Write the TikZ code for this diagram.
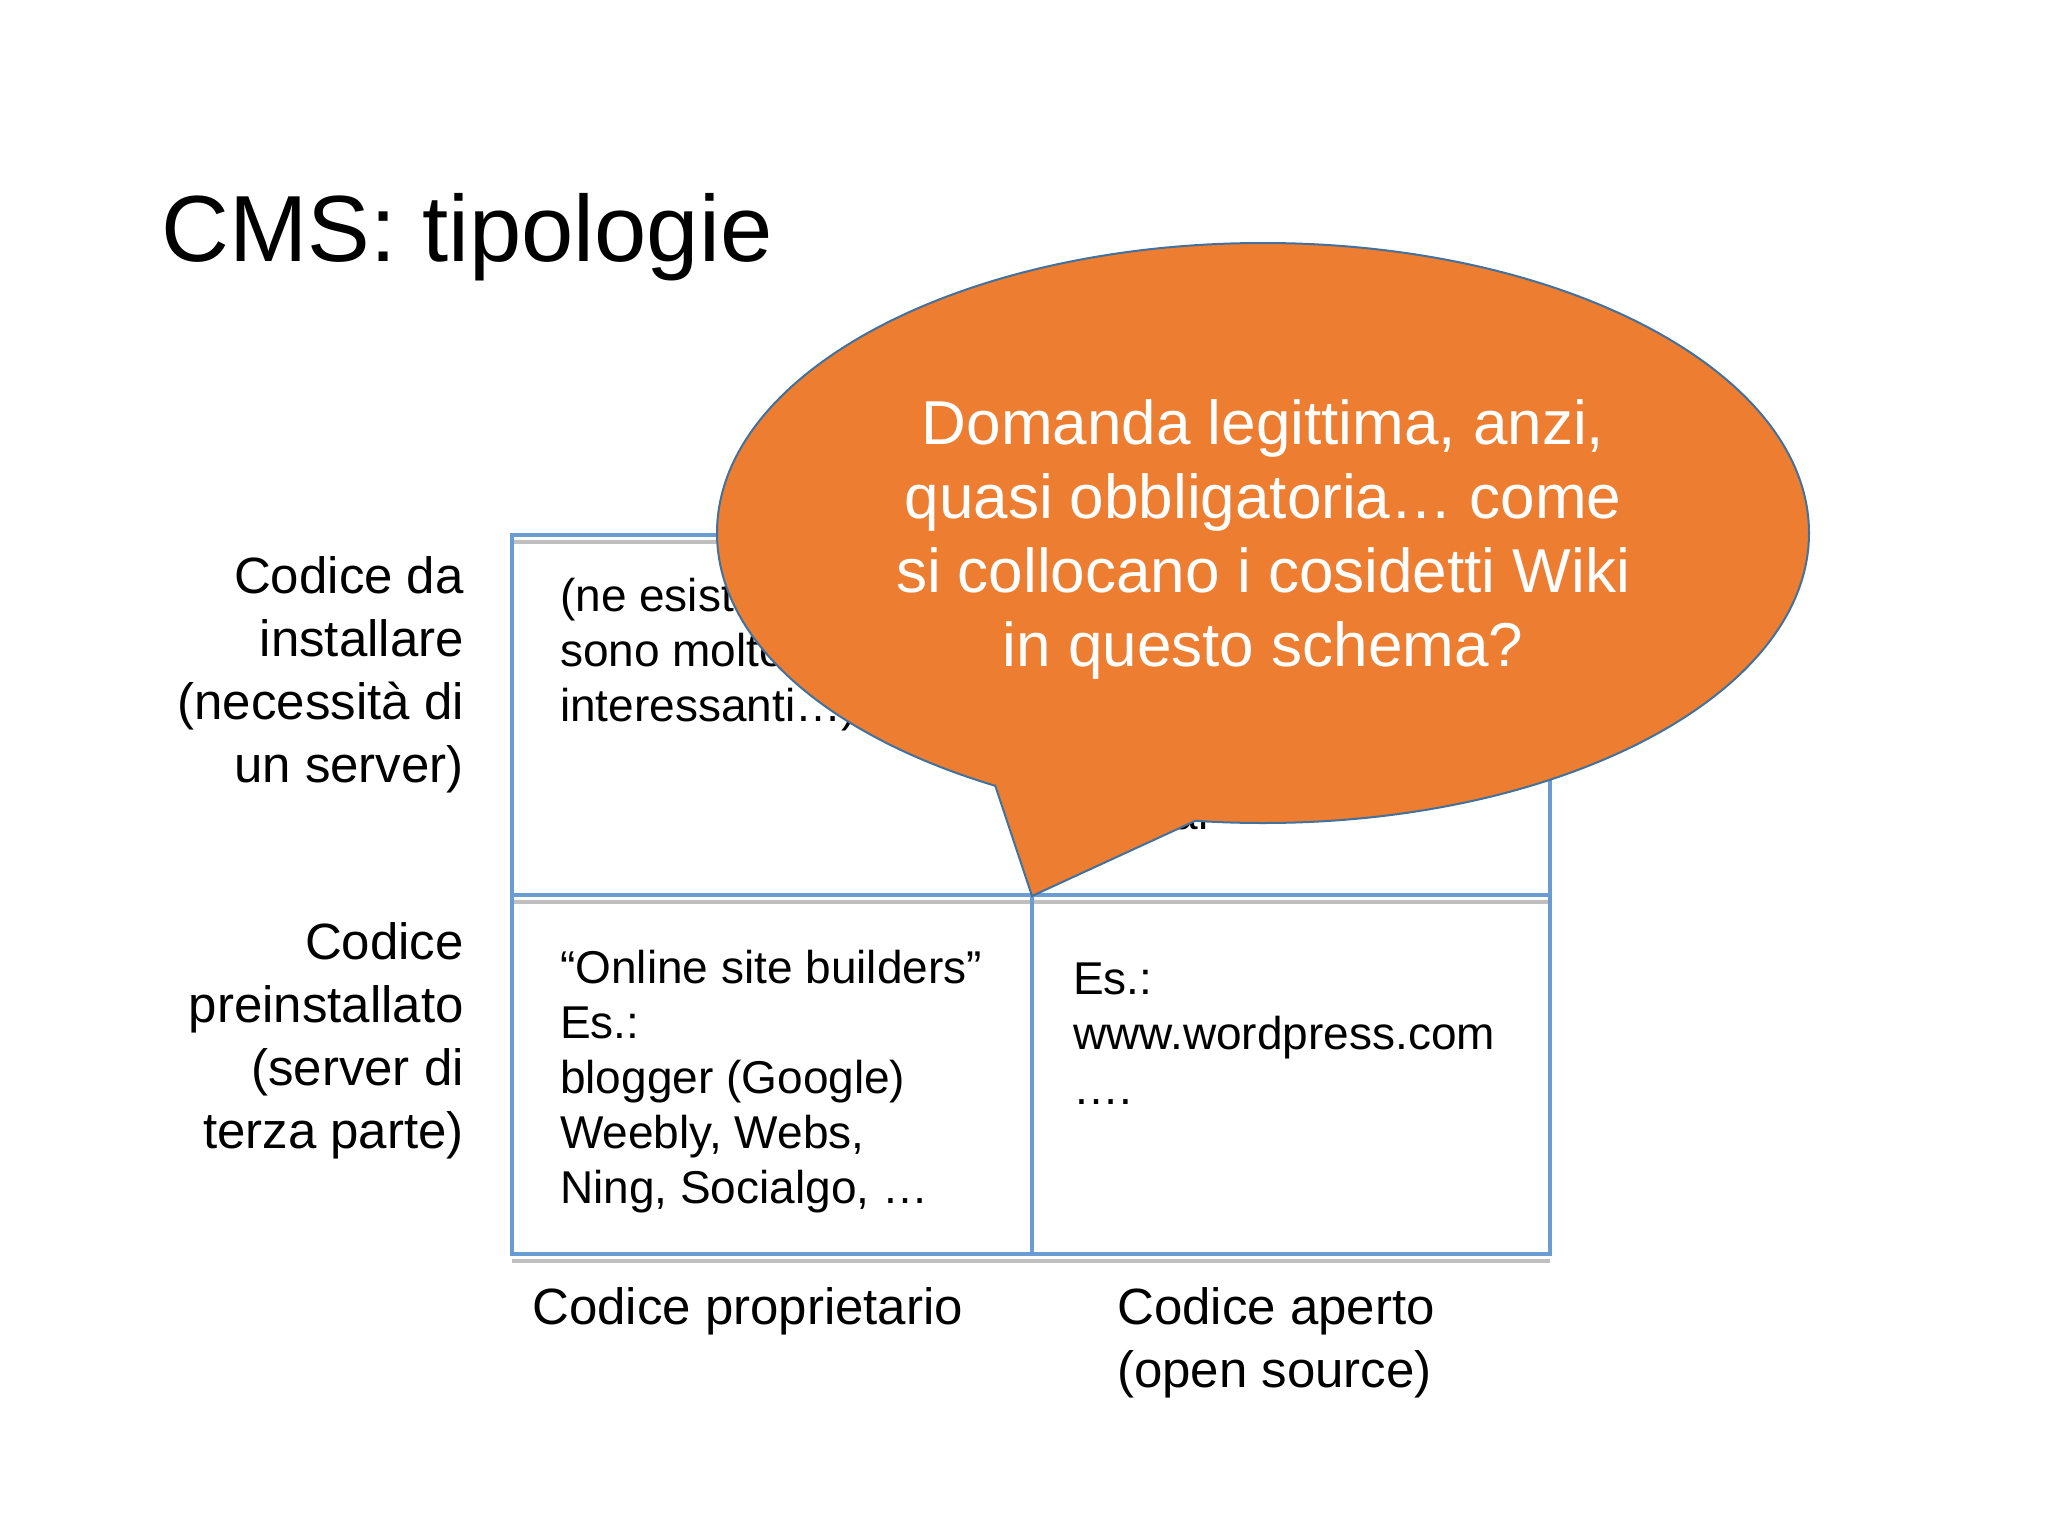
\documentclass[tikz,border=0pt]{standalone}
\usepackage{fontspec}
\setmainfont{Liberation Sans}
\definecolor{gridblue}{HTML}{6A9BD1}
\definecolor{callout}{HTML}{ED7D31}
\definecolor{calloutedge}{HTML}{41719C}
\begin{document}
\begin{tikzpicture}[x=1pt,y=-1pt,
  lbl/.style={inner sep=0pt,font=\fontsize{51}{63}\selectfont},
  cell/.style={inner sep=0pt,align=left,anchor=north west,font=\fontsize{46}{55}\selectfont},
  gridline/.style={gridblue,line width=3.5pt},
  shadowline/.style={black!25,line width=4pt}]
\useasboundingbox[fill=white] (0,0) rectangle (2048,1536);
\node[inner sep=0pt,anchor=base west,font=\fontsize{94}{100}\selectfont] (title) at (161,261) {CMS: tipologie};
% table
\coordinate (tl) at (512,535); \coordinate (tr) at (1550,535);
\coordinate (ml) at (512,895); \coordinate (mr) at (1550,895);
\coordinate (bl) at (512,1254); \coordinate (br) at (1550,1254);
\coordinate (mt) at (1032,895); \coordinate (mb) at (1032,1254);
\draw[shadowline] ([yshift=-7]tl) -- ([yshift=-7]tr);
\draw[shadowline] ([yshift=-7]ml) -- ([yshift=-7]mr);
\draw[shadowline] ([yshift=-7]bl) -- ([yshift=-7]br);
\draw[gridline] (tl) -- (tr) -- (br) -- (bl) -- cycle;
\draw[gridline] (ml) -- (mr);
\draw[gridline] (mt) -- (mb);
% row labels
\node[lbl,align=right,anchor=north east] (r1) at (464,556) {Codice da\\installare\\(necessità di\\un server)};
\node[lbl,align=right,anchor=north east] (r2) at (464,922) {Codice\\preinstallato\\(server di\\terza parte)};
% column labels
\node[lbl,align=left,anchor=north west] (c1) at (532,1287) {Codice proprietario};
\node[lbl,align=left,anchor=north west] (c2) at (1117,1287) {Codice aperto\\(open source)};
% cells
\node[cell] (a1) at (560,578) {(ne esistono, ma\\sono molto\\interessanti…)};
\node[cell] (a2) at (1073,578) {Es.:\\Joomla,\\Wordpress.org\\e altri\\Drupal};
\node[cell] (b1) at (560,950) {“Online site builders”\\Es.:\\blogger (Google)\\Weebly, Webs,\\Ning, Socialgo, …};
\node[cell] (b2) at (1073,963) {Es.:\\www.wordpress.com\\….};
% callout
\fill[callout,draw=calloutedge,line width=2pt] (1263,533) ellipse [x radius=546,y radius=290];
\coordinate (tip) at (1032,896);
\coordinate (lb) at (995,785);
\coordinate (rb) at (1195,821);
\fill[callout] (lb) -- (tip) -- (rb) -- (1100,700) -- cycle;
\draw[calloutedge,line width=2pt,line join=miter] (lb) -- (tip) -- (rb);
\node[inner sep=0pt,align=center,anchor=north,text=white,font=\fontsize{62}{74}\selectfont] (q) at (1263,399) {Domanda legittima, anzi,\\quasi obbligatoria… come\\si collocano i cosidetti Wiki\\in questo schema?};
\end{tikzpicture}
\end{document}
